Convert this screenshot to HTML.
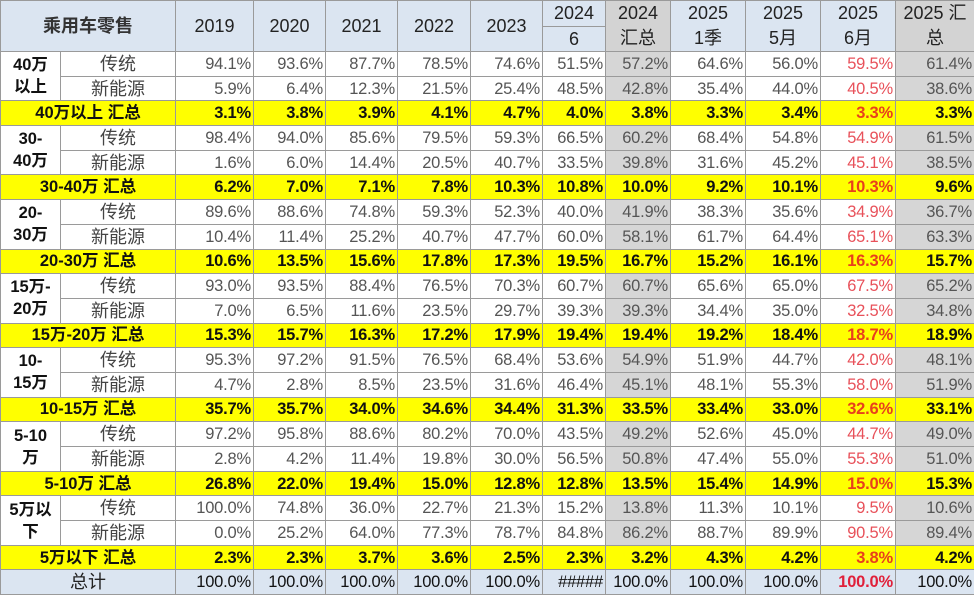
<!DOCTYPE html>
<html><head><meta charset="utf-8">
<style>
html,body{margin:0;padding:0;background:#fff;}
body{width:974px;height:595px;overflow:hidden;}
table{border-collapse:collapse;table-layout:fixed;width:974px;font-family:"Liberation Sans","Noto Sans CJK SC",sans-serif;}
td{border:1px solid #9a9a9a;height:23.7px;padding:0 2px 0 0;text-align:right;color:#555;font-size:16.5px;line-height:20px;white-space:nowrap;overflow:hidden;letter-spacing:-0.2px;}
tr.h td{height:24.5px;background:#dbe5f1;color:#222;text-align:center;font-size:18px;padding:0;letter-spacing:0;}
tr.h td.g{background:#d3d3d3;}
td.lab{text-align:center;color:#111;font-weight:bold;font-size:16.5px;line-height:22px;padding:0;letter-spacing:0;}
td.sub{text-align:center;color:#444;font-size:18px;padding:0;letter-spacing:0;}
td.g{background:#d6d6d6;}
td.r{color:#e8515a;}
tr.y td{background:#ffff00;color:#111;font-weight:bold;}
tr.y td.r{color:#e8401c;}
tr.t td{background:#dbe5f1;color:#111;}
tr.t td.r{color:#e0203a;font-weight:bold;}
</style></head><body>
<table>
<colgroup><col style="width:60px"><col style="width:115px"><col style="width:78px"><col style="width:72px"><col style="width:72px"><col style="width:73px"><col style="width:72px"><col style="width:63px"><col style="width:65px"><col style="width:75px"><col style="width:75px"><col style="width:75px"><col style="width:79px"></colgroup>
<tr class="h"><td colspan="2" rowspan="2" style="font-weight:bold;color:#333">乘用车零售</td><td rowspan="2">2019</td><td rowspan="2">2020</td><td rowspan="2">2021</td><td rowspan="2">2022</td><td rowspan="2">2023</td><td>2024</td><td rowspan="2" class="g" style="line-height:25px">2024<br>汇总</td><td rowspan="2" style="line-height:25px">2025<br>1季</td><td rowspan="2" style="line-height:25px">2025<br>5月</td><td rowspan="2" style="line-height:25px">2025<br>6月</td><td rowspan="2" class="g" style="line-height:25px">2025 汇<br>总</td></tr>
<tr class="h"><td>6</td></tr>

<tr><td rowspan="2" class="lab">40万<br>以上</td><td class="sub">传统</td><td>94.1%</td><td>93.6%</td><td>87.7%</td><td>78.5%</td><td>74.6%</td><td>51.5%</td><td class="g">57.2%</td><td>64.6%</td><td>56.0%</td><td class="r">59.5%</td><td class="g">61.4%</td></tr>
<tr><td class="sub">新能源</td><td>5.9%</td><td>6.4%</td><td>12.3%</td><td>21.5%</td><td>25.4%</td><td>48.5%</td><td class="g">42.8%</td><td>35.4%</td><td>44.0%</td><td class="r">40.5%</td><td class="g">38.6%</td></tr>
<tr class="y"><td colspan="2" class="lab">40万以上 汇总</td><td>3.1%</td><td>3.8%</td><td>3.9%</td><td>4.1%</td><td>4.7%</td><td>4.0%</td><td>3.8%</td><td>3.3%</td><td>3.4%</td><td class="r">3.3%</td><td>3.3%</td></tr>

<tr><td rowspan="2" class="lab">30-<br>40万</td><td class="sub">传统</td><td>98.4%</td><td>94.0%</td><td>85.6%</td><td>79.5%</td><td>59.3%</td><td>66.5%</td><td class="g">60.2%</td><td>68.4%</td><td>54.8%</td><td class="r">54.9%</td><td class="g">61.5%</td></tr>
<tr><td class="sub">新能源</td><td>1.6%</td><td>6.0%</td><td>14.4%</td><td>20.5%</td><td>40.7%</td><td>33.5%</td><td class="g">39.8%</td><td>31.6%</td><td>45.2%</td><td class="r">45.1%</td><td class="g">38.5%</td></tr>
<tr class="y"><td colspan="2" class="lab">30-40万 汇总</td><td>6.2%</td><td>7.0%</td><td>7.1%</td><td>7.8%</td><td>10.3%</td><td>10.8%</td><td>10.0%</td><td>9.2%</td><td>10.1%</td><td class="r">10.3%</td><td>9.6%</td></tr>

<tr><td rowspan="2" class="lab">20-<br>30万</td><td class="sub">传统</td><td>89.6%</td><td>88.6%</td><td>74.8%</td><td>59.3%</td><td>52.3%</td><td>40.0%</td><td class="g">41.9%</td><td>38.3%</td><td>35.6%</td><td class="r">34.9%</td><td class="g">36.7%</td></tr>
<tr><td class="sub">新能源</td><td>10.4%</td><td>11.4%</td><td>25.2%</td><td>40.7%</td><td>47.7%</td><td>60.0%</td><td class="g">58.1%</td><td>61.7%</td><td>64.4%</td><td class="r">65.1%</td><td class="g">63.3%</td></tr>
<tr class="y"><td colspan="2" class="lab">20-30万 汇总</td><td>10.6%</td><td>13.5%</td><td>15.6%</td><td>17.8%</td><td>17.3%</td><td>19.5%</td><td>16.7%</td><td>15.2%</td><td>16.1%</td><td class="r">16.3%</td><td>15.7%</td></tr>

<tr><td rowspan="2" class="lab">15万-<br>20万</td><td class="sub">传统</td><td>93.0%</td><td>93.5%</td><td>88.4%</td><td>76.5%</td><td>70.3%</td><td>60.7%</td><td class="g">60.7%</td><td>65.6%</td><td>65.0%</td><td class="r">67.5%</td><td class="g">65.2%</td></tr>
<tr><td class="sub">新能源</td><td>7.0%</td><td>6.5%</td><td>11.6%</td><td>23.5%</td><td>29.7%</td><td>39.3%</td><td class="g">39.3%</td><td>34.4%</td><td>35.0%</td><td class="r">32.5%</td><td class="g">34.8%</td></tr>
<tr class="y"><td colspan="2" class="lab">15万-20万 汇总</td><td>15.3%</td><td>15.7%</td><td>16.3%</td><td>17.2%</td><td>17.9%</td><td>19.4%</td><td>19.4%</td><td>19.2%</td><td>18.4%</td><td class="r">18.7%</td><td>18.9%</td></tr>

<tr><td rowspan="2" class="lab">10-<br>15万</td><td class="sub">传统</td><td>95.3%</td><td>97.2%</td><td>91.5%</td><td>76.5%</td><td>68.4%</td><td>53.6%</td><td class="g">54.9%</td><td>51.9%</td><td>44.7%</td><td class="r">42.0%</td><td class="g">48.1%</td></tr>
<tr><td class="sub">新能源</td><td>4.7%</td><td>2.8%</td><td>8.5%</td><td>23.5%</td><td>31.6%</td><td>46.4%</td><td class="g">45.1%</td><td>48.1%</td><td>55.3%</td><td class="r">58.0%</td><td class="g">51.9%</td></tr>
<tr class="y"><td colspan="2" class="lab">10-15万 汇总</td><td>35.7%</td><td>35.7%</td><td>34.0%</td><td>34.6%</td><td>34.4%</td><td>31.3%</td><td>33.5%</td><td>33.4%</td><td>33.0%</td><td class="r">32.6%</td><td>33.1%</td></tr>

<tr><td rowspan="2" class="lab">5-10<br>万</td><td class="sub">传统</td><td>97.2%</td><td>95.8%</td><td>88.6%</td><td>80.2%</td><td>70.0%</td><td>43.5%</td><td class="g">49.2%</td><td>52.6%</td><td>45.0%</td><td class="r">44.7%</td><td class="g">49.0%</td></tr>
<tr><td class="sub">新能源</td><td>2.8%</td><td>4.2%</td><td>11.4%</td><td>19.8%</td><td>30.0%</td><td>56.5%</td><td class="g">50.8%</td><td>47.4%</td><td>55.0%</td><td class="r">55.3%</td><td class="g">51.0%</td></tr>
<tr class="y"><td colspan="2" class="lab">5-10万 汇总</td><td>26.8%</td><td>22.0%</td><td>19.4%</td><td>15.0%</td><td>12.8%</td><td>12.8%</td><td>13.5%</td><td>15.4%</td><td>14.9%</td><td class="r">15.0%</td><td>15.3%</td></tr>

<tr><td rowspan="2" class="lab">5万以<br>下</td><td class="sub">传统</td><td>100.0%</td><td>74.8%</td><td>36.0%</td><td>22.7%</td><td>21.3%</td><td>15.2%</td><td class="g">13.8%</td><td>11.3%</td><td>10.1%</td><td class="r">9.5%</td><td class="g">10.6%</td></tr>
<tr><td class="sub">新能源</td><td>0.0%</td><td>25.2%</td><td>64.0%</td><td>77.3%</td><td>78.7%</td><td>84.8%</td><td class="g">86.2%</td><td>88.7%</td><td>89.9%</td><td class="r">90.5%</td><td class="g">89.4%</td></tr>
<tr class="y"><td colspan="2" class="lab">5万以下 汇总</td><td>2.3%</td><td>2.3%</td><td>3.7%</td><td>3.6%</td><td>2.5%</td><td>2.3%</td><td>3.2%</td><td>4.3%</td><td>4.2%</td><td class="r">3.8%</td><td>4.2%</td></tr>

<tr class="t"><td colspan="2" class="sub" style="color:#222">总计</td><td>100.0%</td><td>100.0%</td><td>100.0%</td><td>100.0%</td><td>100.0%</td><td>#####</td><td>100.0%</td><td>100.0%</td><td>100.0%</td><td class="r">100.0%</td><td>100.0%</td></tr>
</table>
</body></html>
